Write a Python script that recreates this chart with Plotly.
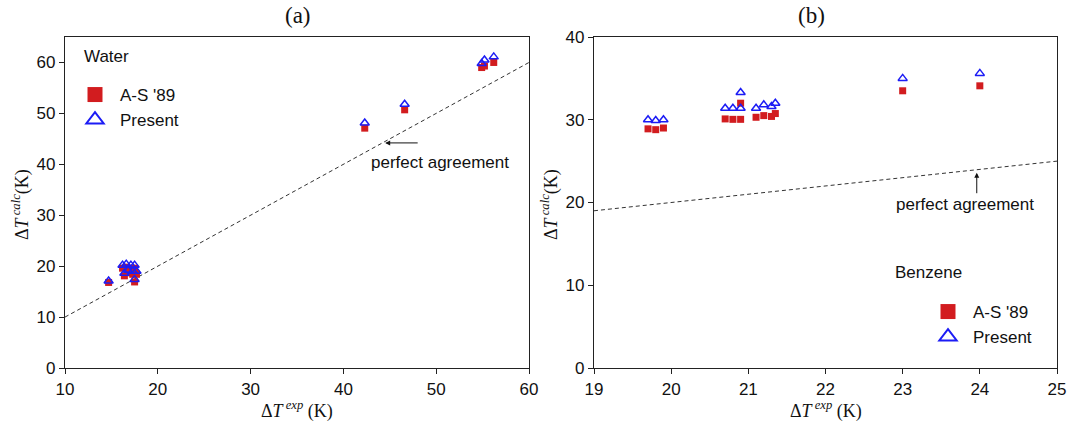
import plotly.graph_objects as go

# ---- data ----
water_exp = [14.7, 16.2, 16.6, 17.1, 17.5, 16.4, 16.8, 17.3, 17.7, 17.5, 42.3, 46.6, 54.9, 55.2, 56.2]
water_as89 = [16.8, 19.6, 19.8, 19.6, 19.6, 18.1, 18.7, 18.4, 18.4, 16.9, 47.1, 50.7, 59.0, 59.3, 60.0]
water_present = [17.1, 20.2, 20.4, 20.2, 20.2, 18.6, 19.2, 19.0, 19.0, 17.4, 48.1, 51.8, 59.8, 60.5, 61.1]

benz_exp = [19.7, 19.8, 19.9, 20.7, 20.8, 20.9, 20.9, 21.1, 21.2, 21.3, 21.35, 23.0, 24.0]
benz_as89 = [28.9, 28.8, 29.0, 30.1, 30.05, 30.05, 32.0, 30.3, 30.5, 30.4, 30.75, 33.5, 34.1]
benz_present = [30.0, 29.9, 30.0, 31.4, 31.4, 31.4, 33.3, 31.4, 31.8, 31.6, 32.0, 35.0, 35.6]

perfect_a = [10, 60]
perfect_b = [19, 25]

xticks_a = [10, 20, 30, 40, 50, 60]
yticks_a = [0, 10, 20, 30, 40, 50, 60]
xticks_b = [19, 20, 21, 22, 23, 24, 25]
yticks_b = [0, 10, 20, 30, 40]

RED = "#d21c1f"
BLUE = "#1c1cf5"
SANS = "Liberation Sans, Arial, sans-serif"
SERIF = "Liberation Serif, Times New Roman, serif"

fig = go.Figure()

# perfect-agreement lines
fig.add_trace(go.Scatter(x=perfect_a, y=perfect_a, mode="lines", xaxis="x", yaxis="y",
                         line=dict(color="#333333", width=1, dash="4px,3px"), showlegend=False))
fig.add_trace(go.Scatter(x=perfect_b, y=perfect_b, mode="lines", xaxis="x2", yaxis="y2",
                         line=dict(color="#333333", width=1, dash="4px,3px"), showlegend=False))

# panel (a)
fig.add_trace(go.Scatter(x=water_exp, y=water_as89, mode="markers", xaxis="x", yaxis="y",
                         marker=dict(symbol="square", size=7, color=RED), showlegend=False))
fig.add_trace(go.Scatter(x=water_exp, y=water_present, mode="markers", xaxis="x", yaxis="y",
                         marker=dict(symbol="triangle-up-open", size=8, color=BLUE, line=dict(width=1.5, color=BLUE)),
                         showlegend=False))
# panel (b)
fig.add_trace(go.Scatter(x=benz_exp, y=benz_as89, mode="markers", xaxis="x2", yaxis="y2",
                         marker=dict(symbol="square", size=7, color=RED), showlegend=False))
fig.add_trace(go.Scatter(x=benz_exp, y=benz_present, mode="markers", xaxis="x2", yaxis="y2",
                         marker=dict(symbol="triangle-up-open", size=8, color=BLUE, line=dict(width=1.5, color=BLUE)),
                         showlegend=False))

# legend entries
for lg, ax, ay in (("legend", "x", "y"), ("legend2", "x2", "y2")):
    fig.add_trace(go.Scatter(x=[None], y=[None], mode="markers", name="A-S '89", xaxis=ax, yaxis=ay,
                             marker=dict(symbol="square", size=15, color=RED), legend=lg))
    fig.add_trace(go.Scatter(x=[None], y=[None], mode="markers", name="Present", xaxis=ax, yaxis=ay,
                             marker=dict(symbol="triangle-up-open", size=15, color=BLUE,
                                         line=dict(width=2, color=BLUE)), legend=lg))

W, H = 1069, 423
ydom = [1 - 368 / H, 1 - 37 / H]
axis_common = dict(showline=True, linecolor="#222222", linewidth=1.3, mirror=True,
                   ticks="outside", ticklen=5, tickcolor="#222222", tickwidth=1,
                   showgrid=False, zeroline=False, automargin=False,
                   tickfont=dict(family=SANS, size=17, color="#111111"))

legend_common = dict(font=dict(family=SANS, size=17, color="#111111"), bgcolor="rgba(0,0,0,0)",
                     itemwidth=40, tracegroupgap=0, xanchor="left", yanchor="top")

fig.update_layout(
    width=W, height=H,
    margin=dict(l=0, r=0, t=0, b=0, autoexpand=False),
    paper_bgcolor="white", plot_bgcolor="white",
    xaxis=dict(domain=[65 / W, 529 / W], range=[10, 60], tickvals=xticks_a, anchor="y", **axis_common),
    yaxis=dict(domain=ydom, range=[0, 65], tickvals=yticks_a, anchor="x", **axis_common),
    xaxis2=dict(domain=[594 / W, 1057 / W], range=[19, 25], tickvals=xticks_b, anchor="y2", **axis_common),
    yaxis2=dict(domain=ydom, range=[0, 40], tickvals=yticks_b, anchor="x2", **axis_common),
    legend=dict(x=70 / W, y=1 - 77 / H, **legend_common),
    legend2=dict(x=923 / W, y=1 - 294 / H, **legend_common),
    showlegend=True,
)


def note(text, x, y, size=17, family=SANS, xanchor="center", angle=0):
    return dict(text=text, x=x / W, y=1 - y / H, xref="paper", yref="paper", showarrow=False,
                xanchor=xanchor, yanchor="middle", textangle=angle,
                font=dict(family=family, size=size, color="#111111"))


ann = []
# titles
ann.append(note("(a)", 298, 15, size=23, family=SERIF))
ann.append(note("(b)", 811, 15, size=23, family=SERIF))
# axis titles
xt = "Δ<i>T</i><sup> <i>exp</i></sup> (K)"
yt = "Δ<i>T</i><sup> <i>calc</i></sup>(K)"
ann.append(note(xt, 297, 410, size=18, family=SERIF))
ann.append(note(xt, 826, 410, size=18, family=SERIF))
ann.append(note(yt, 21, 205, size=18, family=SERIF, angle=-90))
ann.append(note(yt, 550, 205, size=18, family=SERIF, angle=-90))
# panel labels
ann.append(note("Water", 82, 57, xanchor="left"))
ann.append(note("Benzene", 893, 272, xanchor="left"))
# perfect agreement arrows
ann.append(dict(x=44.5, y=44.2, xref="x", yref="y", ax=34, ay=0, showarrow=True, arrowhead=2,
                arrowsize=1, arrowwidth=1, arrowcolor="#111111", text=""))
ann.append(dict(text="perfect agreement", x=50.4, y=40.3, xref="x", yref="y", showarrow=False,
                xanchor="center", yanchor="middle", font=dict(family=SANS, size=17, color="#111111")))
ann.append(dict(x=23.96, y=23.6, xref="x2", yref="y2", ax=0, ay=22, showarrow=True, arrowhead=2,
                arrowsize=1, arrowwidth=1, arrowcolor="#111111", text=""))
ann.append(dict(text="perfect agreement", x=23.81, y=19.8, xref="x2", yref="y2", showarrow=False,
                xanchor="center", yanchor="middle", font=dict(family=SANS, size=17, color="#111111")))
fig.update_layout(annotations=ann)

fig.write_html("out.html")
